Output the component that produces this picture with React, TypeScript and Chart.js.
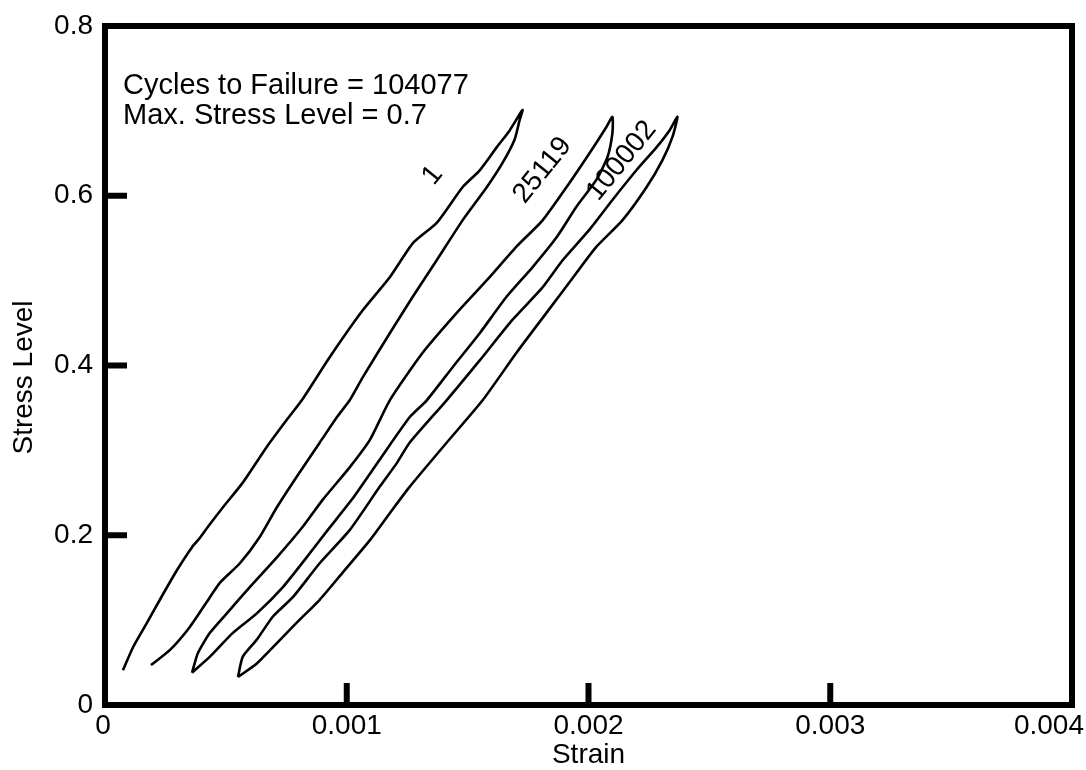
import React, { useEffect, useRef } from "react";
import { Chart, registerables } from "chart.js";

Chart.register(...registerables);

// Cycle 1 (loading then unloading)
const strain1 = [
  0.0000744, 0.000116, 0.000174, 0.000227, 0.000298, 0.00036, 0.000393, 0.000426, 0.000488, 0.00057,
  0.000669, 0.000752, 0.000814, 0.00093, 0.001066, 0.001178, 0.001273, 0.001372, 0.001479, 0.00155,
  0.00162, 0.001674, 0.001727,
  0.001715, 0.001694, 0.001645, 0.001579, 0.001479, 0.001372, 0.001273, 0.001178, 0.001066, 0.001012,
  0.000959, 0.000888, 0.000793, 0.000711, 0.00064, 0.000558, 0.000475, 0.000434, 0.000351, 0.000269,
  0.00019,
];
const stress1 = [
  0.041, 0.068, 0.097, 0.124, 0.159, 0.186, 0.197, 0.21, 0.233, 0.262,
  0.304, 0.336, 0.359, 0.41, 0.465, 0.504, 0.544, 0.568, 0.61, 0.63,
  0.657, 0.677, 0.701,
  0.689, 0.666, 0.639, 0.61, 0.571, 0.524, 0.481, 0.438, 0.386, 0.359,
  0.339, 0.309, 0.269, 0.233, 0.198, 0.167, 0.144, 0.127, 0.092, 0.065,
  0.047,
];

// Cycle 25119
const strain2 = [
  0.00036, 0.000384, 0.000434, 0.000504, 0.000599, 0.000711, 0.000818, 0.000901, 0.001012, 0.001095,
  0.001178, 0.001314, 0.001455, 0.001591, 0.001702, 0.00181, 0.001921, 0.002004, 0.002074, 0.002099,
  0.002099, 0.002079, 0.002033, 0.00195, 0.001868, 0.001769, 0.001661, 0.00155, 0.001438, 0.001331,
  0.00126, 0.001136, 0.001021, 0.000921, 0.000826, 0.000736, 0.000628, 0.000529, 0.000434, 0.00036,
];
const stress2 = [
  0.038, 0.061, 0.085, 0.108, 0.139, 0.174, 0.21, 0.242, 0.28, 0.312,
  0.359, 0.415, 0.462, 0.504, 0.54, 0.571, 0.615, 0.65, 0.681, 0.693,
  0.674, 0.646, 0.619, 0.587, 0.551, 0.516, 0.481, 0.438, 0.398, 0.359,
  0.339, 0.289, 0.242, 0.206, 0.171, 0.139, 0.108, 0.085, 0.057, 0.038,
];

// Cycle 100002
const strain3 = [
  0.00055, 0.00057, 0.000628, 0.000694, 0.000777, 0.000888, 0.001012, 0.001136, 0.001207, 0.00126,
  0.001413, 0.00155, 0.001686, 0.00181, 0.001893, 0.002004, 0.002099, 0.002198, 0.002281, 0.002335,
  0.002368,
  0.002347, 0.002306, 0.00224, 0.00214, 0.002033, 0.00195, 0.001826, 0.001702, 0.001562, 0.001413,
  0.00126, 0.001178, 0.001095, 0.000983, 0.000888, 0.000793, 0.000711, 0.000628, 0.00055,
];
const stress3 = [
  0.033, 0.057, 0.077, 0.104, 0.127, 0.167, 0.206, 0.257, 0.285, 0.309,
  0.359, 0.406, 0.454, 0.492, 0.524, 0.56, 0.595, 0.63, 0.657, 0.677,
  0.693,
  0.669, 0.642, 0.61, 0.571, 0.54, 0.509, 0.462, 0.415, 0.359, 0.309,
  0.257, 0.226, 0.194, 0.156, 0.124, 0.097, 0.073, 0.049, 0.033,
];

const cycleLabels = ["1", "25119", "100002"];
const labelStrain = [0.001355, 0.00181, 0.002137];
const labelStress = [0.624, 0.63, 0.641];

const xTickValues = [0, 0.001, 0.002, 0.003, 0.004];
const xTickLabels = ["0", "0.001", "0.002", "0.003", "0.004"];
const xMarkValues = [0.001, 0.002, 0.003];
const yMarkValues = [0.2, 0.4, 0.6];

const infoLines = ["Cycles to Failure = 104077", "Max. Stress Level = 0.7"];
const xTitle = "Strain";
const yTitle = "Stress Level";

const FONT = "'Liberation Sans', Arial, Helvetica, sans-serif";

const toPoints = (xs: number[], ys: number[]) => xs.map((x, i) => ({ x, y: ys[i] }));

const decorPlugin = {
  id: "decor",
  afterDraw(chart: any) {
    const { ctx, chartArea: a, scales } = chart;
    const xs = scales.x;
    const ys = scales.y;
    ctx.save();
    ctx.strokeStyle = "#000";
    ctx.fillStyle = "#000";
    // frame
    ctx.lineWidth = 6;
    ctx.strokeRect(a.left, a.top, a.right - a.left, a.bottom - a.top);
    // inward ticks
    ctx.lineCap = "butt";
    xMarkValues.forEach((v) => {
      const px = xs.getPixelForValue(v);
      ctx.beginPath();
      ctx.moveTo(px, a.bottom);
      ctx.lineTo(px, a.bottom - 22);
      ctx.stroke();
    });
    yMarkValues.forEach((v) => {
      const py = ys.getPixelForValue(v);
      ctx.beginPath();
      ctx.moveTo(a.left, py);
      ctx.lineTo(a.left + 22, py);
      ctx.stroke();
    });
    // x tick labels
    ctx.font = `28px ${FONT}`;
    ctx.textBaseline = "middle";
    xTickValues.forEach((v, i) => {
      let px = xs.getPixelForValue(v);
      if (i === xTickValues.length - 1) {
        ctx.textAlign = "right";
        px = chart.width - 2;
      } else {
        ctx.textAlign = "center";
        if (i === 0) px -= 2;
      }
      ctx.fillText(xTickLabels[i], px, a.bottom + 21);
    });
    // axis titles
    ctx.textAlign = "center";
    ctx.fillText(xTitle, (a.left + a.right) / 2, a.bottom + 50);
    ctx.save();
    ctx.translate(24, (a.top + a.bottom) / 2 + 12);
    ctx.rotate(-Math.PI / 2);
    ctx.fillText(yTitle, 0, 0);
    ctx.restore();
    // info text
    ctx.font = `29px ${FONT}`;
    ctx.textAlign = "left";
    ctx.textBaseline = "alphabetic";
    infoLines.forEach((t, i) => ctx.fillText(t, a.left + 18, a.top + 68 + i * 30));
    // curve labels
    ctx.font = `28px ${FONT}`;
    cycleLabels.forEach((t, i) => {
      const px = xs.getPixelForValue(labelStrain[i]);
      const py = ys.getPixelForValue(labelStress[i]);
      ctx.save();
      ctx.translate(px, py);
      ctx.rotate((-51 * Math.PI) / 180);
      ctx.textAlign = "center";
      ctx.textBaseline = "middle";
      ctx.fillText(t, 0, 0);
      ctx.restore();
    });
    ctx.restore();
  },
};

export default function App() {
  const ref = useRef<HTMLCanvasElement | null>(null);
  useEffect(() => {
    if (!ref.current) return;
    const mk = (xs: number[], ys: number[], label: string) => ({
      label,
      data: toPoints(xs, ys),
      showLine: true,
      borderColor: "#000",
      borderWidth: 2.6,
      pointRadius: 0,
      tension: 0.2,
      fill: false,
    });
    const chart = new Chart(ref.current, {
      type: "scatter",
      data: {
        datasets: [
          mk(strain1, stress1, cycleLabels[0]),
          mk(strain2, stress2, cycleLabels[1]),
          mk(strain3, stress3, cycleLabels[2]),
        ],
      },
      options: {
        responsive: false,
        animation: false,
        layout: { padding: { top: 26, right: 14, left: 0, bottom: 0 } },
        plugins: { legend: { display: false }, tooltip: { enabled: false } },
        scales: {
          x: {
            type: "linear",
            min: 0,
            max: 0.004,
            grid: { display: false },
            border: { display: false },
            ticks: { display: false, stepSize: 0.001 },
            afterFit: (s: any) => {
              s.height = 65;
              s.paddingLeft = 0;
              s.paddingRight = 0;
            },
          },
          y: {
            type: "linear",
            min: 0,
            max: 0.8,
            grid: { display: false, drawTicks: false },
            border: { display: false },
            ticks: {
              stepSize: 0.2,
              color: "#000",
              padding: 12,
              font: { family: FONT, size: 28 },
            },
            afterFit: (s: any) => {
              s.width = 105;
              s.paddingTop = 0;
              s.paddingBottom = 0;
            },
          },
        },
      },
      plugins: [decorPlugin],
    });
    return () => chart.destroy();
  }, []);
  return (
    <div style={{ position: "absolute", left: 0, top: 0, width: 1086, height: 770, background: "#fff" }}>
      <canvas ref={ref} width={1086} height={770} style={{ display: "block" }} />
    </div>
  );
}
